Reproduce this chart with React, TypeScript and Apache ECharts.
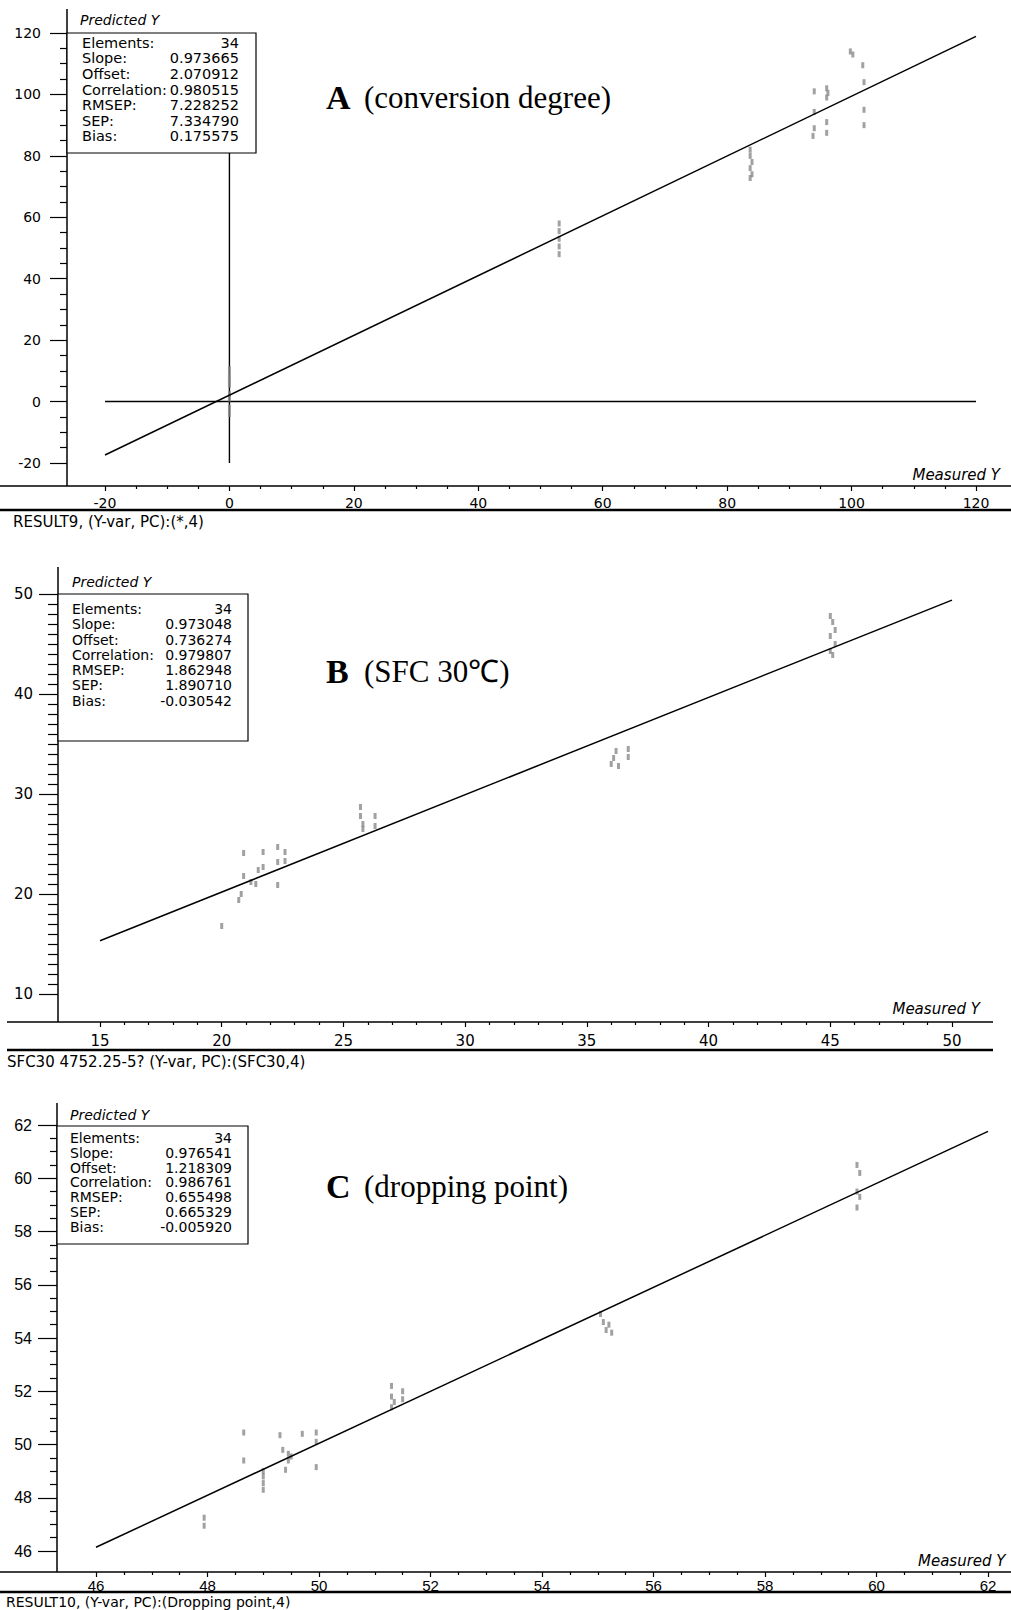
import React, { useEffect, useRef } from "react";
import * as echarts from "echarts";

// ---------- data ----------
const statLabels = ["Elements:", "Slope:", "Offset:", "Correlation:", "RMSEP:", "SEP:", "Bias:"];
const statsA = ["34", "0.973665", "2.070912", "0.980515", "7.228252", "7.334790", "0.175575"];
const statsB = ["34", "0.973048", "0.736274", "0.979807", "1.862948", "1.890710", "-0.030542"];
const statsC = ["34", "0.976541", "1.218309", "0.986761", "0.655498", "0.665329", "-0.005920"];

const titleLetters = ["A", "B", "C"];
const titleTexts = ["(conversion degree)", "(SFC 30\u2103)", "(dropping point)"];
const footers = [
  "RESULT9, (Y-var, PC):(*,4)",
  "SFC30 4752.25-5? (Y-var, PC):(SFC30,4)",
  "RESULT10, (Y-var, PC):(Dropping point,4)",
];
const yName = "Predicted Y";
const xName = "Measured Y";

const pointsA: [number, number][] = [
  [0, 10.5], [0, 8.5], [0, 7], [0, 5.5], [0, 2.5], [0, 1], [0, -2], [0, -4],
  [53, 58], [53, 55.5], [53, 53], [53, 50.5], [53, 48],
  [83.7, 82], [83.7, 80], [84, 78], [83.7, 76], [84, 74], [83.7, 72.8],
  [94, 101], [94, 94.3], [94, 89], [93.8, 86.5],
  [96, 102], [96.2, 100.5], [96, 99], [96, 91], [96, 87.5],
  [99.8, 114], [100.2, 113],
  [101.8, 109.5], [102, 104], [102, 95], [102, 90],
];
const pointsB: [number, number][] = [
  [20, 16.8], [20.7, 19.4], [20.8, 20], [20.9, 24.1], [20.9, 21.8], [21.2, 21.2], [21.5, 22.4],
  [21.7, 24.2], [21.7, 22.7], [22.3, 24.7], [22.3, 23.2], [22.3, 20.9], [22.6, 24.2], [22.6, 23.3],
  [21.4, 21], [25.7, 28.7], [25.7, 27.8], [25.8, 27], [25.8, 26.5], [26.3, 27.8], [26.3, 26.8],
  [36.2, 34.3], [36.1, 33.6], [36, 33], [36.3, 32.8], [36.7, 34.5], [36.7, 33.7],
  [45, 47.8], [45.1, 47.2], [45.2, 46.4], [45, 45.8], [45.2, 45], [45, 44.3], [45.1, 43.9],
];
const pointsC: [number, number][] = [
  [47.94, 47.25], [47.94, 46.95], [48.65, 50.45], [48.65, 49.4], [49, 49], [49, 48.8], [49, 48.55],
  [49, 48.3], [49.3, 50.35], [49.35, 49.8], [49.45, 49.65], [49.5, 49.55], [49.45, 49.4], [49.4, 49.05],
  [49.7, 50.4], [49.95, 50.45], [49.95, 50.1], [49.95, 49.15], [51.3, 52.2], [51.3, 51.8], [51.35, 51.6],
  [51.3, 51.4], [51.5, 52], [51.5, 51.7], [55.05, 54.9], [55.1, 54.6], [55.2, 54.5], [55.25, 54.2],
  [55.15, 54.3], [59.65, 60.5], [59.7, 60.2], [59.65, 59.5], [59.7, 59.3], [59.65, 58.9],
];

const fitA: [number, number][] = [[-20, -17.4], [120, 118.9]];
const fitB: [number, number][] = [[15, 15.33], [50, 49.39]];
const fitC: [number, number][] = [[46, 46.14], [62, 61.76]];

const zeroHA: [number, number][] = [[-20, 0], [120, 0]];
const zeroVA: [number, number][] = [[0, -20], [0, 120]];

const xRangeA = [-20, 120, 20];
const yRangeA = [-20, 120, 20];
const xRangeB = [15, 50, 5];
const yRangeB = [10, 50, 10];
const xRangeC = [46, 62, 2];
const yRangeC = [46, 62, 2];

// ---------- layout / style ----------
const DJ = '"DejaVu Sans", sans-serif';
const LS = '"Liberation Sans", Arial, sans-serif';
const SERIF = '"Liberation Serif", "Times New Roman", serif';

const panels = [
  {
    grid: { left: 105, top: 33, width: 871, height: 430 },
    xr: xRangeA, yr: yRangeA,
    x: { minor: 4, offset: 23, tick: 5, minorTick: 3, margin: 10, font: 14, family: DJ },
    y: { minor: 4, offset: 38, tick: 17, minorTick: 7, margin: 26, font: 14, family: DJ },
    points: pointsA, fit: fitA, extra: [zeroHA, zeroVA], stats: statsA,
    yAxisLine: { x: 67, y1: 9, y2: 486 },
    xAxisLine: { y: 486, x1: 0, x2: 1011 },
    bottomLine: { y: 510, x1: 0, x2: 1011 },
    box: { x: 67, y: 33, w: 189, h: 120 },
    rows: { lx: 82, vx: 239, y0: 42.7, dy: 15.6, font: 14.5 },
    pred: { x: 80, y: 20 },
    meas: { x: 1000, y: 475, align: "right" },
    title: { x: 326, tx: 364, y: 97 },
    footer: { x: 13, y: 522, font: 15 },
  },
  {
    grid: { left: 100, top: 594, width: 852, height: 400 },
    xr: xRangeB, yr: yRangeB,
    x: { minor: 5, offset: 28, tick: 5, minorTick: 3, margin: 11, font: 15, family: DJ },
    y: { minor: 10, offset: 42, tick: 19, minorTick: 10, margin: 25, font: 15, family: DJ },
    points: pointsB, fit: fitB, extra: [], stats: statsB,
    yAxisLine: { x: 58, y1: 567, y2: 1022 },
    xAxisLine: { y: 1022, x1: 7, x2: 993 },
    bottomLine: { y: 1050, x1: 7, x2: 993 },
    box: { x: 58, y: 594, w: 190, h: 147 },
    rows: { lx: 72, vx: 232, y0: 609, dy: 15.25, font: 14 },
    pred: { x: 72, y: 582 },
    meas: { x: 980, y: 1009, align: "right" },
    title: { x: 326, tx: 364, y: 671 },
    footer: { x: 7, y: 1062, font: 15 },
  },
  {
    grid: { left: 96, top: 1125, width: 892, height: 426 },
    xr: xRangeC, yr: yRangeC,
    x: { minor: 4, offset: 21, tick: 5, minorTick: 3, margin: 6, font: 15, family: LS },
    y: { minor: 4, offset: 39, tick: 19, minorTick: 7, margin: 25, font: 16, family: LS },
    points: pointsC, fit: fitC, extra: [], stats: statsC,
    yAxisLine: { x: 57, y1: 1103, y2: 1572 },
    xAxisLine: { y: 1572, x1: 0, x2: 1011 },
    bottomLine: { y: 1592, x1: 0, x2: 1011 },
    box: { x: 57, y: 1126, w: 191, h: 118 },
    rows: { lx: 70, vx: 232, y0: 1138, dy: 14.8, font: 14 },
    pred: { x: 70, y: 1115 },
    meas: { x: 918, y: 1561, align: "left" },
    title: { x: 326, tx: 364, y: 1186 },
    footer: { x: 6, y: 1602, font: 14 },
  },
];

function buildOption() {
  const grids: any[] = [];
  const xAxes: any[] = [];
  const yAxes: any[] = [];
  const series: any[] = [];
  const elements: any[] = [];

  panels.forEach((p, i) => {
    grids.push({ ...p.grid, containLabel: false, outerBoundsMode: "none" });
    const tickStyle = { color: "#000", width: 1.2 };
    xAxes.push({
      type: "value", gridIndex: i, min: p.xr[0], max: p.xr[1], interval: p.xr[2],
      position: "bottom",
      offset: p.x.offset,
      axisLine: { show: false, onZero: false },
      axisTick: { show: true, length: p.x.tick, lineStyle: tickStyle },
      minorTick: { show: true, splitNumber: p.x.minor, length: p.x.minorTick, lineStyle: tickStyle },
      splitLine: { show: false }, minorSplitLine: { show: false },
      axisLabel: { color: "#000", fontSize: p.x.font, fontFamily: p.x.family, margin: p.x.margin, hideOverlap: false },
    });
    yAxes.push({
      type: "value", gridIndex: i, min: p.yr[0], max: p.yr[1], interval: p.yr[2],
      position: "left",
      offset: p.y.offset,
      axisLine: { show: false, onZero: false },
      axisTick: { show: true, length: p.y.tick, lineStyle: tickStyle },
      minorTick: { show: true, splitNumber: p.y.minor, length: p.y.minorTick, lineStyle: tickStyle },
      splitLine: { show: false }, minorSplitLine: { show: false },
      axisLabel: { color: "#000", fontSize: p.y.font, fontFamily: p.y.family, margin: p.y.margin, hideOverlap: false },
    });
    series.push({
      type: "scatter", xAxisIndex: i, yAxisIndex: i, data: p.points,
      symbol: "rect", symbolSize: [3, 6],
      itemStyle: { color: "#8a8a8a" }, z: 3,
    });
    series.push({
      type: "line", xAxisIndex: i, yAxisIndex: i, data: p.fit,
      showSymbol: false, symbol: "none", lineStyle: { color: "#000", width: 1.5 }, z: 4,
    });
    p.extra.forEach((d) => {
      series.push({
        type: "line", xAxisIndex: i, yAxisIndex: i, data: d,
        showSymbol: false, symbol: "none", lineStyle: { color: "#000", width: 1.4 }, z: 2,
      });
    });

    // axis frame lines
    elements.push({
      type: "line", z: 10,
      shape: { x1: p.yAxisLine.x, y1: p.yAxisLine.y1, x2: p.yAxisLine.x, y2: p.yAxisLine.y2 },
      style: { stroke: "#000", lineWidth: 1.5 },
    });
    elements.push({
      type: "line", z: 10,
      shape: { x1: p.xAxisLine.x1, y1: p.xAxisLine.y, x2: p.xAxisLine.x2, y2: p.xAxisLine.y },
      style: { stroke: "#000", lineWidth: 1.5 },
    });
    elements.push({
      type: "line", z: 10,
      shape: { x1: p.bottomLine.x1, y1: p.bottomLine.y, x2: p.bottomLine.x2, y2: p.bottomLine.y },
      style: { stroke: "#000", lineWidth: 2.5 },
    });
    // stats box
    elements.push({
      type: "rect", z: 20,
      shape: { x: p.box.x, y: p.box.y, width: p.box.w, height: p.box.h },
      style: { fill: "#fff", stroke: "#000", lineWidth: 1.2 },
    });
    statLabels.forEach((lab, r) => {
      const yy = p.rows.y0 + r * p.rows.dy;
      elements.push({
        type: "text", z: 21, x: p.rows.lx, y: yy,
        style: { text: lab, fontSize: p.rows.font, fontFamily: DJ, fill: "#000", align: "left", verticalAlign: "middle" },
      });
      elements.push({
        type: "text", z: 21, x: p.rows.vx, y: yy,
        style: { text: p.stats[r], fontSize: p.rows.font, fontFamily: DJ, fill: "#000", align: "right", verticalAlign: "middle" },
      });
    });
    elements.push({
      type: "text", z: 21, x: p.pred.x, y: p.pred.y,
      style: { text: yName, fontSize: 14, fontStyle: "italic", fontFamily: DJ, fill: "#000", align: "left", verticalAlign: "middle" },
    });
    elements.push({
      type: "text", z: 21, x: p.meas.x, y: p.meas.y,
      style: { text: xName, fontSize: 15, fontStyle: "italic", fontFamily: DJ, fill: "#000", align: p.meas.align, verticalAlign: "middle" },
    });
    elements.push({
      type: "text", z: 21, x: p.title.x, y: p.title.y,
      style: { text: titleLetters[i], fontSize: 34, fontWeight: "bold", fontFamily: SERIF, fill: "#000", align: "left", verticalAlign: "middle" },
    });
    elements.push({
      type: "text", z: 21, x: p.title.tx, y: p.title.y,
      style: { text: titleTexts[i], fontSize: 31, fontFamily: SERIF, fill: "#000", align: "left", verticalAlign: "middle" },
    });
    elements.push({
      type: "text", z: 21, x: p.footer.x, y: p.footer.y,
      style: { text: footers[i], fontSize: p.footer.font, fontFamily: DJ, fill: "#000", align: "left", verticalAlign: "middle" },
    });
  });

  return {
    animation: false,
    backgroundColor: "#fff",
    grid: grids,
    xAxis: xAxes,
    yAxis: yAxes,
    series,
    graphic: { elements },
  };
}

export default function App() {
  const ref = useRef<HTMLDivElement>(null);
  useEffect(() => {
    if (!ref.current) return;
    const chart = echarts.init(ref.current, null, { renderer: "svg" });
    chart.setOption(buildOption() as any);
    return () => chart.dispose();
  }, []);
  return (
    <div
      ref={ref}
      style={{ position: "absolute", left: 0, top: 0, width: 1011, height: 1610, background: "#fff" }}
    />
  );
}
